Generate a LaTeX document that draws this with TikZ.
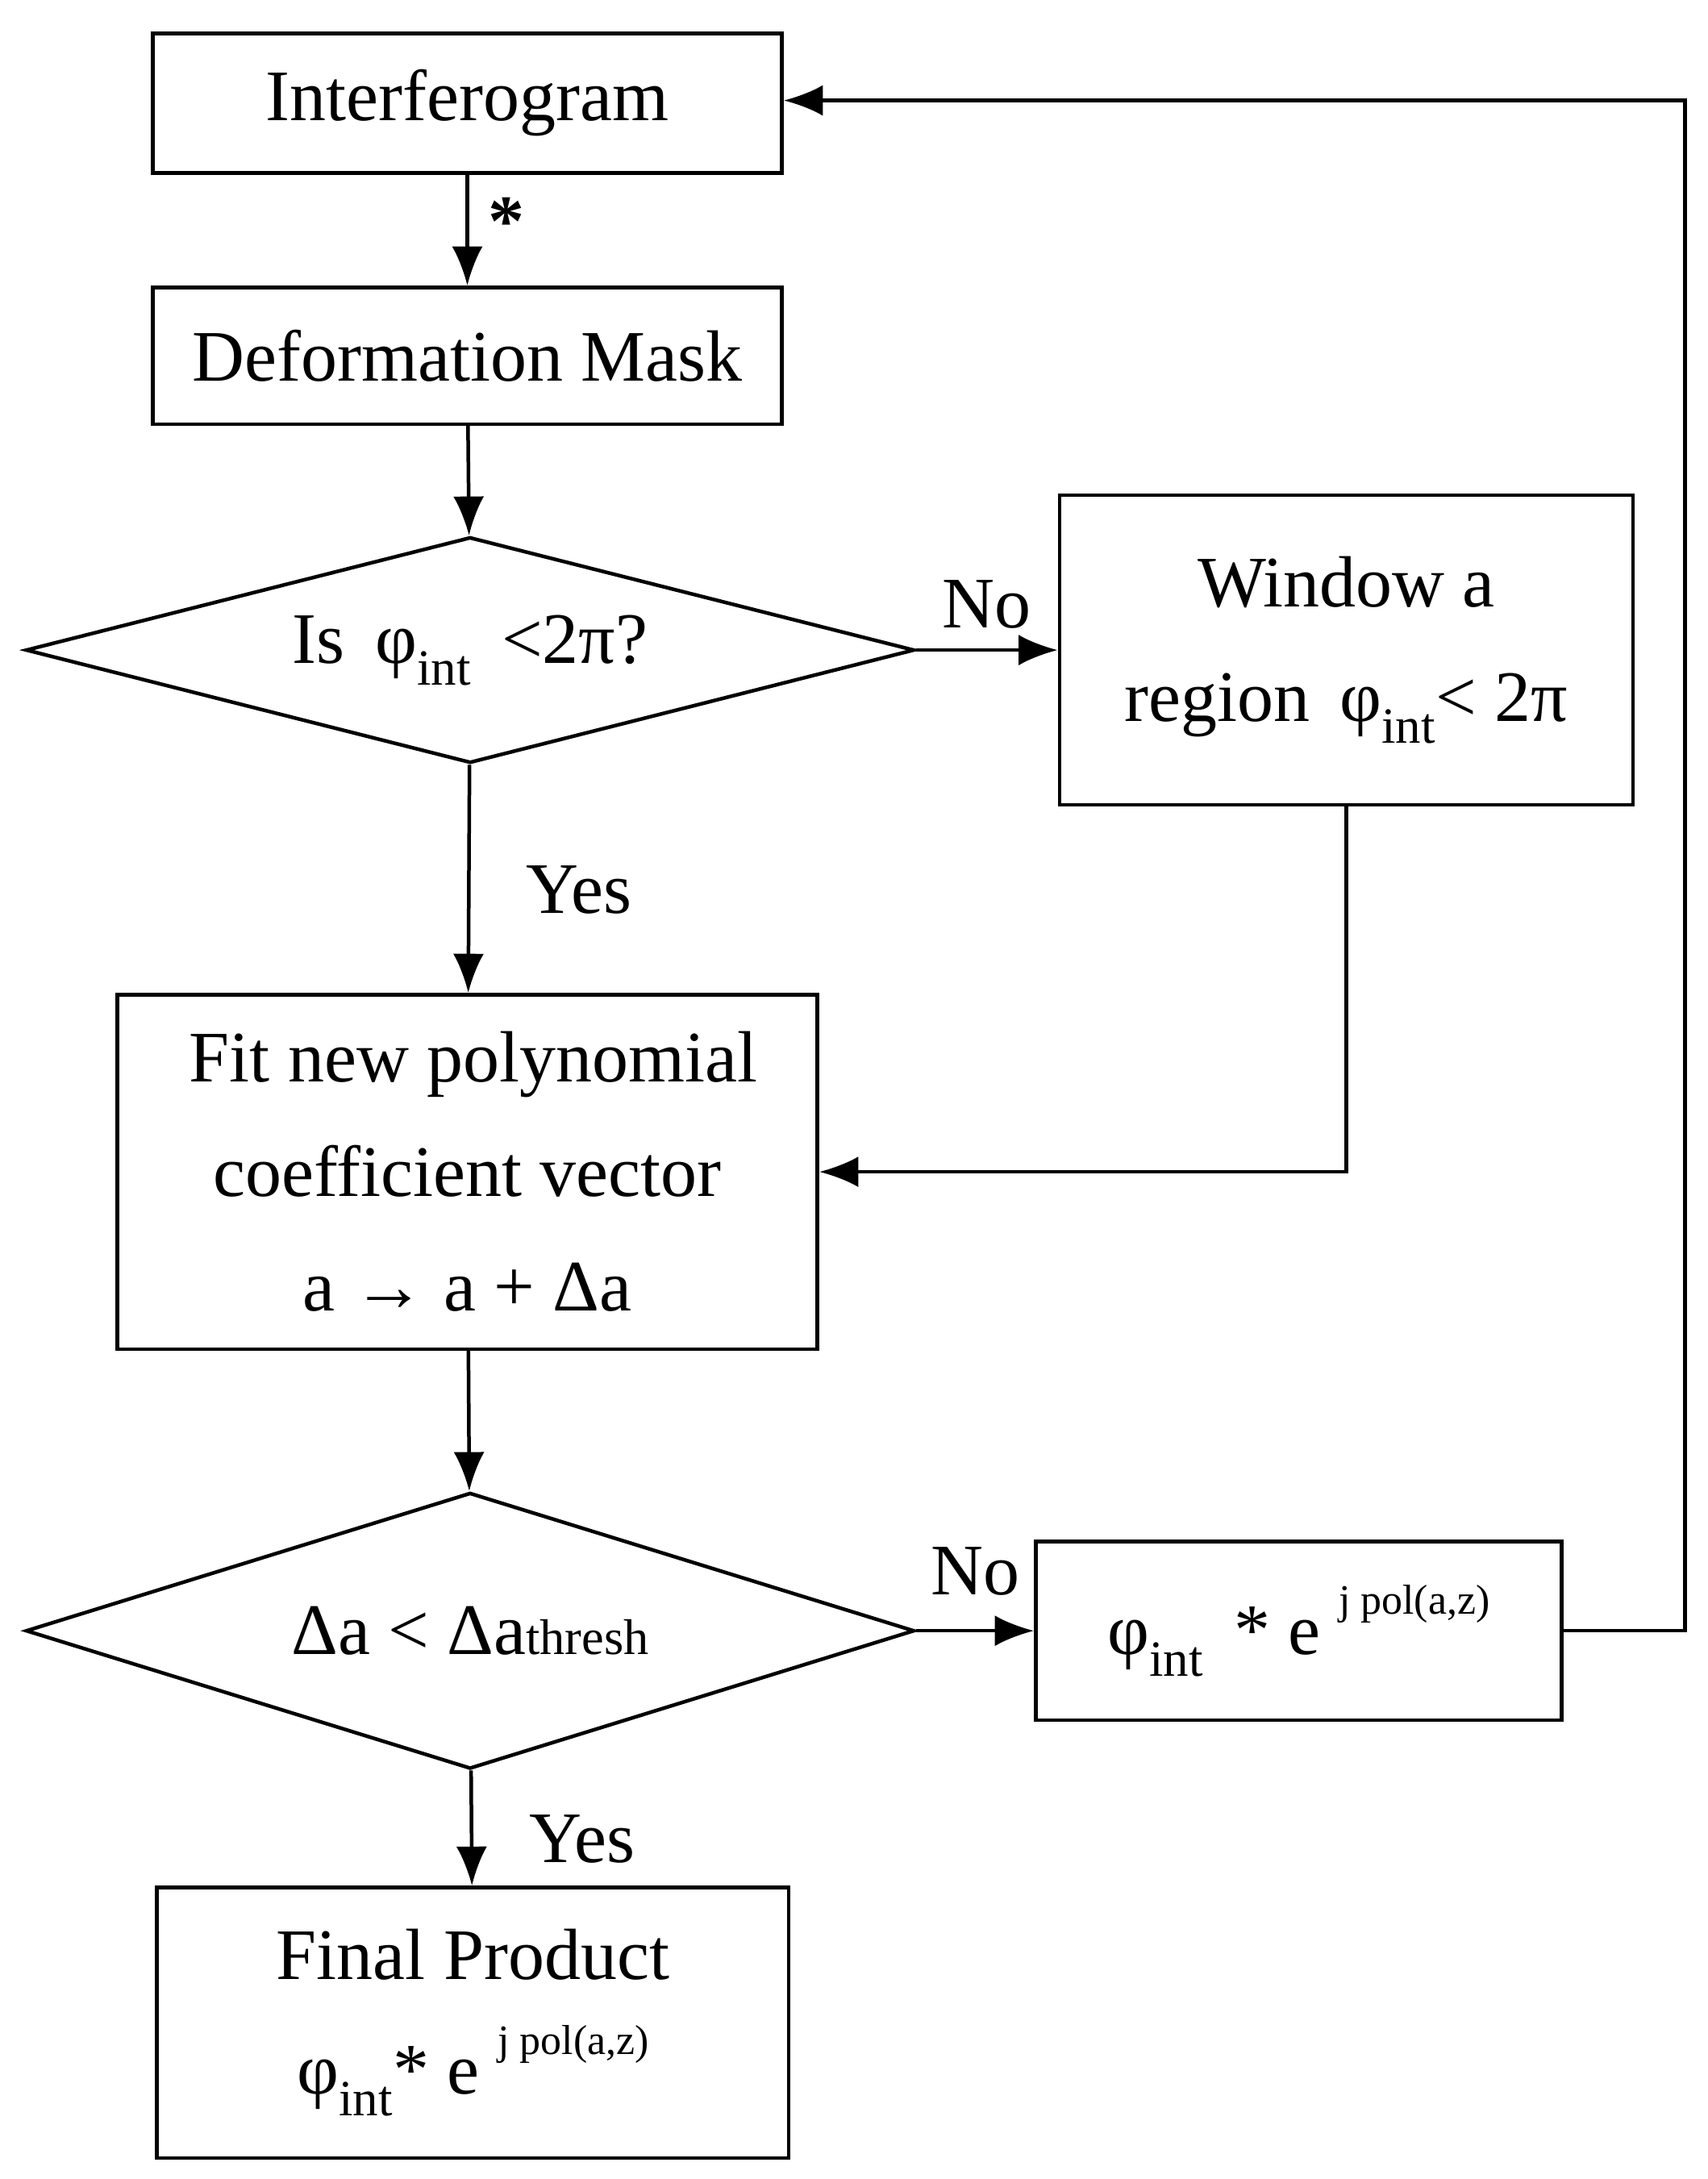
\documentclass[tikz,border=0pt]{standalone}
\usepackage{fontspec}
\setmainfont{Liberation Serif}
\usetikzlibrary{shapes.geometric,arrows.meta}
\newcommand{\phint}{φ\textsubscript{int}}
\newcommand{\jpol}{\raisebox{0.55em}{\fontsize{30}{30}\selectfont j pol(a,z)}}
\begin{document}
\begin{tikzpicture}[x=1pt,y=-1pt,line width=2.6pt,>={Latex[length=28pt,width=22pt]},
   every node/.style={font=\fontsize{52}{82}\selectfont},
   box/.style={draw, rectangle, inner sep=0pt, align=center},
   dec/.style={draw, diamond, inner sep=0pt, shape aspect=3.93, minimum width=637pt, minimum height=162pt},
   lbl/.style={inner sep=0pt}]
   \useasboundingbox (0,0) rectangle (1224,1562);

\node[box, minimum width=451pt, minimum height=100pt] (interf) at (335,74) {Interferogram};
\node[box, minimum width=451pt, minimum height=98pt] (mask) at (335,255) {Deformation Mask};
\node[dec] (test1) at (337,466) {Is\, \phint\ \,<2π?};
\node[box, minimum width=411pt, minimum height=222pt] (window) at (965,466) {Window a\\region \,\phint< 2π};
\node[box, minimum width=502pt, minimum height=254pt] (fit) at (335,840) {\,Fit new polynomial\\coefficient vector\\a → a + Δa};
\node[dec, minimum height=198pt, shape aspect=3.2] (test2) at (337,1169) {Δa < Δa{\fontsize{36}{36}\selectfont thresh}};
\node[box, minimum width=377pt, minimum height=128pt] (corr) at (931,1169) {\phint\ \,* e \jpol};
\node[box, minimum width=453pt, minimum height=194pt] (final) at (339,1450) {Final Product\\\phint* e \jpol};
\coordinate (c1) at (1208,1169);
\coordinate (c2) at (1208,72);
\coordinate (c3) at (965,840);

\draw[->] (interf) -- node[lbl, right=14pt, yshift=6pt] {\textbf{*}} (mask);
\draw[->] (mask) -- (test1);
\draw[->] (test1) -- node[lbl, above=14pt] {No} (window);
\draw[->] (test1) -- node[lbl, right=40pt, yshift=-8pt] {Yes} (fit);
\draw[->] (window) -- (c3) -- (fit.east |- c3);
\draw[->] (fit) -- (test2);
\draw[->] (test2) -- node[lbl, above=24pt] {No} (corr);
\draw[->] (test2) -- node[lbl, right=40pt, yshift=-8pt] {Yes} (final);
\draw[->] (corr) -- (c1) -- (c2) -- (interf.east |- c2);
\end{tikzpicture}
\end{document}
